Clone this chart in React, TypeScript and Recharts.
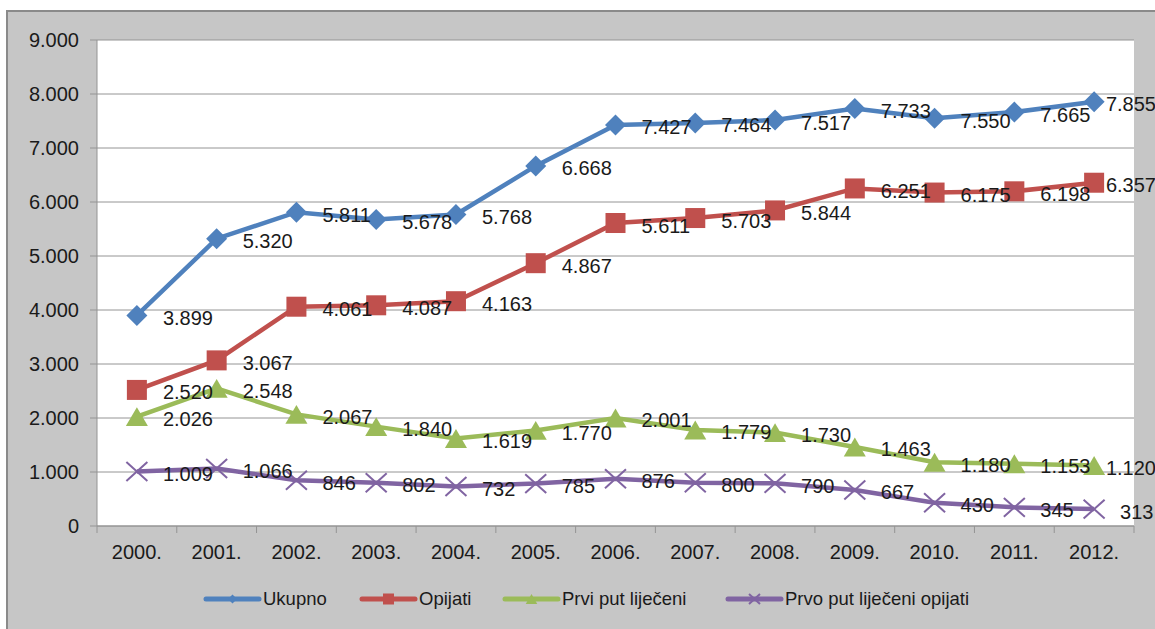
import React from 'react';
import { LineChart, Line, XAxis, YAxis, CartesianGrid, LabelList, Legend } from 'recharts';

// Years on the category axis
const years = ['2000.', '2001.', '2002.', '2003.', '2004.', '2005.', '2006.', '2007.', '2008.', '2009.', '2010.', '2011.', '2012.'];

// Series values
const ukupno = [3899, 5320, 5811, 5678, 5768, 6668, 7427, 7464, 7517, 7733, 7550, 7665, 7855];
const opijati = [2520, 3067, 4061, 4087, 4163, 4867, 5611, 5703, 5844, 6251, 6175, 6198, 6357];
const prviPutLijeceni = [2026, 2548, 2067, 1840, 1619, 1770, 2001, 1779, 1730, 1463, 1180, 1153, 1120];
const prvoPutLijeceniOpijati = [1009, 1066, 846, 802, 732, 785, 876, 800, 790, 667, 430, 345, 313];

// Value axis ticks
const yTicks = [0, 1000, 2000, 3000, 4000, 5000, 6000, 7000, 8000, 9000];

type MarkerKind = 'diamond' | 'square' | 'triangle' | 'cross';

const seriesMeta: { key: string; name: string; color: string; marker: MarkerKind; legendLeft: number }[] = [
  { key: 'ukupno', name: 'Ukupno', color: '#4f81bd', marker: 'diamond', legendLeft: 202 },
  { key: 'opijati', name: 'Opijati', color: '#c0504d', marker: 'square', legendLeft: 358 },
  { key: 'prvi', name: 'Prvi put liječeni', color: '#9bbb59', marker: 'triangle', legendLeft: 501 },
  { key: 'prvo', name: 'Prvo put liječeni opijati', color: '#8064a2', marker: 'cross', legendLeft: 724 },
];

const data = years.map((year, i) => ({
  year,
  ukupno: ukupno[i],
  opijati: opijati[i],
  prvi: prviPutLijeceni[i],
  prvo: prvoPutLijeceniOpijati[i],
}));

const W = 1155;
const H = 629;
const PLOT_LEFT = 97;
const PLOT_RIGHT = 1134;
const HALF_BAND = (PLOT_RIGHT - PLOT_LEFT) / years.length / 2;
const LABEL_LIMIT = 1156;
const FONT = '"Liberation Sans", Arial, sans-serif';
const AXIS = '#949494';
const TEXT = '#1a1a1a';

const fmt = (v: number) => String(v).replace(/\B(?=(\d{3})+(?!\d))/g, '.');

// Approximate advance width of a formatted number at 20px Arial metrics
const textWidth = (s: string) =>
  s.split('').reduce((w, ch) => w + (ch === '.' ? 5.56 : 11.12), 0);

const Marker = ({ cx, cy, kind, color, r }: { cx: number; cy: number; kind: MarkerKind; color: string; r: number }) => {
  if (cx == null || cy == null) return null;
  switch (kind) {
    case 'diamond':
      return <polygon points={`${cx},${cy - r} ${cx + r},${cy} ${cx},${cy + r} ${cx - r},${cy}`} fill={color} />;
    case 'square':
      return <rect x={cx - r} y={cy - r} width={2 * r} height={2 * r} fill={color} />;
    case 'triangle':
      return (
        <polygon
          points={`${cx},${cy - r * 0.9} ${cx + r * 1.05},${cy + r * 0.9} ${cx - r * 1.05},${cy + r * 0.9}`}
          fill={color}
        />
      );
    case 'cross':
    default:
      return (
        <g stroke={color} strokeWidth={2}>
          <line x1={cx - r} y1={cy - r * 0.9} x2={cx + r} y2={cy + r * 0.9} />
          <line x1={cx - r} y1={cy + r * 0.9} x2={cx + r} y2={cy - r * 0.9} />
        </g>
      );
  }
};

const markerSize: Record<MarkerKind, number> = { diamond: 10.5, square: 10, triangle: 10.5, cross: 10.5 };

const YearTick = (props: any) => {
  const { x, y, payload, index } = props;
  return (
    <g>
      <line x1={x - HALF_BAND} x2={x - HALF_BAND} y1={y} y2={y + 7} stroke={AXIS} />
      {index === years.length - 1 && (
        <line x1={x + HALF_BAND} x2={x + HALF_BAND} y1={y} y2={y + 7} stroke={AXIS} />
      )}
      <text x={x} y={y + 33} textAnchor="middle" fontSize={20} fontFamily={FONT} fill={TEXT}>
        {payload.value}
      </text>
    </g>
  );
};

const ValueLabel = (props: any) => {
  const { x, y, value } = props;
  if (x == null || y == null || value == null) return null;
  const text = fmt(value);
  let lx = x + 26;
  let anchor: 'start' | 'end' = 'start';
  if (lx + textWidth(text) > LABEL_LIMIT) {
    lx = LABEL_LIMIT;
    anchor = 'end';
  }
  return (
    <text x={lx} y={y + 9.5} textAnchor={anchor} fontSize={20} fontFamily={FONT} fill={TEXT}>
      {text}
    </text>
  );
};

const LegendContent = () => (
  <div
    style={{
      position: 'relative',
      height: 20,
      fontFamily: FONT,
      fontSize: 18.5,
      color: TEXT,
      whiteSpace: 'nowrap',
    }}
  >
    {seriesMeta.map((s) => (
      <div
        key={s.key}
        style={{ position: 'absolute', left: s.legendLeft, top: 0, height: 20, display: 'flex', alignItems: 'center' }}
      >
        <svg width={60} height={20}>
          <line x1={4} x2={57} y1={10} y2={10} stroke={s.color} strokeWidth={5} strokeLinecap="round" />
          <Marker cx={30.5} cy={10} kind={s.marker} color={s.color} r={s.marker === 'diamond' ? 4.5 : 5.5} />
        </svg>
        <span style={{ marginLeft: 1 }}>{s.name}</span>
      </div>
    ))}
  </div>
);

export default function App() {
  return (
    <div style={{ position: 'absolute', left: 0, top: 0, width: W, height: H, overflow: 'hidden', background: '#fff' }}>
      <div
        style={{
          position: 'absolute',
          left: 6,
          top: 10,
          width: W,
          height: H,
          background: '#c6c6c6',
          borderTop: '2px solid #8a8a8a',
          borderLeft: '2px solid #8a8a8a',
        }}
      />
      <div style={{ position: 'absolute', left: 0, top: 0 }}>
        <LineChart width={W} height={H} data={data} margin={{ top: 40, right: W - PLOT_RIGHT, bottom: 0, left: 0 }}>
          <CartesianGrid vertical={false} stroke={AXIS} fill="#ffffff" fillOpacity={1} />
          <XAxis
            dataKey="year"
            interval={0}
            height={63}
            padding={{ left: HALF_BAND, right: HALF_BAND }}
            axisLine={{ stroke: AXIS }}
            tickLine={false}
            tickSize={0}
            tickMargin={0}
            tick={<YearTick />}
          />
          <YAxis
            width={PLOT_LEFT}
            domain={[0, 9000]}
            ticks={yTicks}
            interval={0}
            tickFormatter={fmt}
            axisLine={{ stroke: AXIS }}
            tickLine={{ stroke: AXIS }}
            tickSize={7}
            tickMargin={11}
            tick={{ fontSize: 20, fontFamily: FONT, fill: TEXT }}
          />
          <Legend verticalAlign="bottom" height={40} wrapperStyle={{ left: 0, width: W }} content={<LegendContent />} />
          {seriesMeta.map((s) => (
            <Line
              key={s.key}
              type="linear"
              dataKey={s.key}
              name={s.name}
              stroke={s.color}
              strokeWidth={4.5}
              isAnimationActive={false}
              activeDot={false}
              dot={(p: any) => (
                <Marker
                  key={`${s.key}-${p.index}`}
                  cx={p.cx}
                  cy={p.cy}
                  kind={s.marker}
                  color={s.color}
                  r={markerSize[s.marker]}
                />
              )}
            />
          ))}
          {/* value labels drawn above every series */}
          {seriesMeta.map((s) => (
            <Line
              key={`${s.key}-labels`}
              type="linear"
              dataKey={s.key}
              stroke="none"
              dot={false}
              activeDot={false}
              legendType="none"
              isAnimationActive={false}
            >
              <LabelList dataKey={s.key} content={<ValueLabel />} />
            </Line>
          ))}
        </LineChart>
      </div>
    </div>
  );
}
